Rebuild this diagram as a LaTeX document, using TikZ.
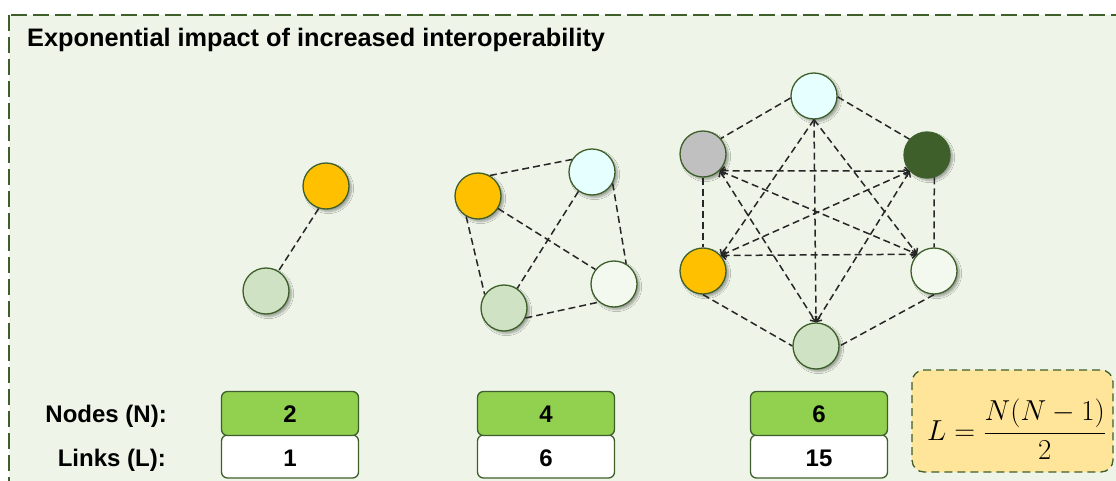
\documentclass[tikz,border=0pt]{standalone}
\usepackage{fontspec}
\setmainfont{Liberation Sans}
\usetikzlibrary{arrows.meta,shadows.blur}
\definecolor{bgc}{HTML}{EEF5E8}
\definecolor{frm}{HTML}{3E5F2A}
\definecolor{corange}{HTML}{FFC000}
\definecolor{clgreen}{HTML}{CFE2C3}
\definecolor{ccyan}{HTML}{E6FFFF}
\definecolor{cwhite}{HTML}{F3F9EF}
\definecolor{cgray}{HTML}{C0C0C0}
\definecolor{cdgreen}{HTML}{3F5F2A}
\definecolor{gbox}{HTML}{92D050}
\definecolor{ybox}{HTML}{FFE599}
\begin{document}
\begin{tikzpicture}[x=1pt,y=-1pt,
  circ/.style={circle, draw=frm, line width=1.3pt, minimum size=46pt, inner sep=0pt,
    blur shadow={shadow xshift=2.5pt, shadow yshift=-2.5pt, shadow blur steps=6, shadow opacity=35}},
  link/.style={dash pattern=on 7pt off 4pt, line width=1.5pt, black!85},
  arrb/.style={link, {Straight Barb[length=4pt,width=8pt]}-{Straight Barb[length=4pt,width=8pt]}},
  arre/.style={link, -{Straight Barb[length=4pt,width=8pt]}},
  numbox/.style={draw=frm, line width=1.3pt, rounded corners=6pt, minimum width=137pt,
    inner sep=0pt},
  numtxt/.style={anchor=base, inner sep=0pt, font=\bfseries\fontsize{24}{28}\selectfont},
  lbl/.style={anchor=base east, inner sep=0pt, font=\bfseries\fontsize{24}{28}\selectfont}]
\useasboundingbox (0,0) rectangle (1116,481);
\clip (0,0) rectangle (1116,481);
\fill[white] (0,0) rectangle (1116,481);
\draw[draw=frm, fill=bgc, line width=1.6pt, dash pattern=on 16pt off 6pt] (9,15) rectangle (1140,510);
\node[anchor=base west, inner sep=0pt, font=\bfseries\fontsize{25.3}{30}\selectfont] (title) at (27,47) {Exponential impact of increased interoperability};

% two-node graph
\node[circ, fill=corange] (a1) at (326,186) {};
\node[circ, fill=clgreen] (a2) at (266,291) {};
\draw[link] (a1.-108) -- (a2.58);

% four-node graph
\node[circ, fill=corange] (b1) at (478,196) {};
\node[circ, fill=ccyan] (b2) at (592,172) {};
\node[circ, fill=cwhite] (b3) at (614,284) {};
\node[circ, fill=clgreen] (b4) at (504,308) {};
\draw[link] (b1.60) -- (b2.148);
\draw[link] (b1.-120) -- (b4.145);
\draw[link] (b1.-32) -- (b3.142);
\draw[link] (b2.-125) -- (b4.56);
\draw[link] (b2.-29) -- (b3.59);
\draw[link] (b4.-25) -- (b3.-130);

% six-node graph
\node[circ, fill=ccyan] (t) at (814,96) {};
\node[circ, fill=cgray] (g) at (703,154) {};
\node[circ, fill=cdgreen] (dg) at (927,155) {};
\node[circ, fill=corange] (o) at (703,271) {};
\node[circ, fill=cwhite] (w) at (934,271) {};
\node[circ, fill=clgreen] (bt) at (816,346) {};
\draw[link] (t.185) -- (g.41);
\draw[link] (t.-2) -- (dg.138);
\draw[link] (g.-90) -- (o.90);
\draw[link] (dg.-72) -- (w.90);
\draw[link] (o.-90) -- (bt.180);
\draw[link] (w.-90) -- (bt.0);
\draw[arrb] (g.-45) -- (dg.-137);
\draw[arrb] (o.41) -- (w.135);
\draw[arrb] (g.-45) -- (w.135);
\draw[arrb] (o.41) -- (dg.-137);
\draw[arrb] (g.-45) -- (bt.90);
\draw[arrb] (dg.-137) -- (bt.90);
\draw[arre] (t.-90) -- (o.41);
\draw[arre] (t.-90) -- (w.135);
\draw[arre] (t.-90) -- (bt.90);

% table
\node[lbl] (ln) at (167,422) {Nodes (N):};
\node[lbl] (ll) at (166,466) {Links (L):};
\node[numbox, fill=white, minimum height=43pt] (l1) at (290,456.5) {};
\node[numbox, fill=gbox, minimum height=44pt] (n1) at (290,413.5) {};
\node[numbox, fill=white, minimum height=43pt] (l2) at (546,456.5) {};
\node[numbox, fill=gbox, minimum height=44pt] (n2) at (546,413.5) {};
\node[numbox, fill=white, minimum height=43pt] (l3) at (819,456.5) {};
\node[numbox, fill=gbox, minimum height=44pt] (n3) at (819,413.5) {};
\node[numtxt] (n1t) at (290,422) {2};
\node[numtxt] (l1t) at (290,466) {1};
\node[numtxt] (n2t) at (546,422) {4};
\node[numtxt] (l2t) at (546,466) {6};
\node[numtxt] (n3t) at (819,422) {6};
\node[numtxt] (l3t) at (819,466) {15};

% formula
\draw[draw=frm, fill=ybox, line width=1.3pt, dash pattern=on 8pt off 5pt, rounded corners=12pt] (912,370) rectangle (1113,472);
\node[anchor=base west, inner sep=0pt, font=\fontsize{24.88}{30}\selectfont] (f) at (927,440) {\scalebox{1.16}{$\displaystyle L=\frac{N(N-1)}{2}$}};
\end{tikzpicture}
\end{document}
